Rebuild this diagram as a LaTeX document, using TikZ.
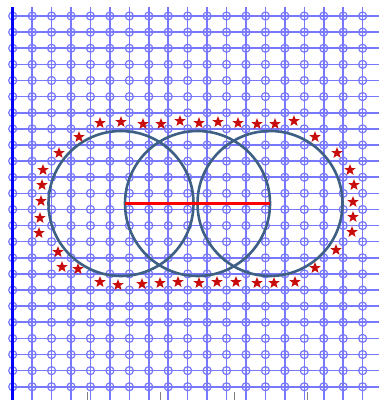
\documentclass[tikz,border=0pt]{standalone}
\usepackage{tikz}
\usetikzlibrary{shapes.geometric}
\definecolor{gridblue}{RGB}{120,120,252}
\definecolor{ringblue}{RGB}{62,96,132}
\definecolor{stardark}{RGB}{200,12,12}

\begin{document}
\begin{tikzpicture}[x=0.5pt, y=-0.5pt,
    gridline/.style={draw=gridblue, line width=0.8pt},
    knot/.style={circle, draw=gridblue, line width=0.6pt, minimum size=4pt, inner sep=0pt},
    ring/.style={draw=ringblue, line width=1.3pt},
    redstar/.style={star, star points=5, star point ratio=2.4, fill=stardark, minimum size=6pt, inner sep=0pt}]
    \useasboundingbox (0,0) rectangle (379,400);

    % Grid of knots
    \foreach \i in {0,...,18}
        \draw[gridline] ({12.7+19.44*\i},7) -- ({12.7+19.44*\i},400);
    \foreach \j in {0,...,23}
        \draw[gridline] (12.7,{16+16.12*\j}) -- (379,{16+16.12*\j});
    \foreach \i in {0,...,18}
        \foreach \j in {0,...,23}
            \node[knot] (k-\i-\j) at ({12.7+19.44*\i},{16+16.12*\j}) {};

    % Left border and bottom ticks
    \draw[blue, line width=1.5pt] (12.7,7) -- (12.7,400);
    \foreach \x in {87,160,234,307}
        \draw[gray, line width=0.5pt] (\x,392) -- (\x,400);

    % Three rings
    \coordinate (c-left) at (121,203.5);
    \coordinate (c-mid) at (197.5,203.5);
    \coordinate (c-right) at (270,203.5);
    \foreach \c in {c-left,c-mid,c-right}
        \draw[ring] (\c) circle[radius=72.5];

    % Diameter of the middle ring
    \coordinate (d-west) at (125,203.5);
    \coordinate (d-east) at (270,203.5);
    \draw[red, line width=1.3pt] (d-west) -- (d-east);

    % Stars round the rings
    \foreach \sx/\sy [count=\n] in {79/137, 100/123, 121/122, 143/124, 161/124, 180/121, 199/123, 218/122, 238/123, 257/124, 275/124, 294/121, 315/137,
            337/153, 350/170, 354/185, 353/202, 353/217, 352/232, 336/250, 315/268,
            295/282, 274/283, 257/283, 236/282, 217/282, 199/283, 178/282, 160/283, 142/284, 118/285, 100/282, 78/269, 62/267,
            58/252, 39/233, 40/218, 41/201, 42/185, 43/170, 59/153}
        \node[redstar] (s-\n) at (\sx,\sy) {};
\end{tikzpicture}
\end{document}
